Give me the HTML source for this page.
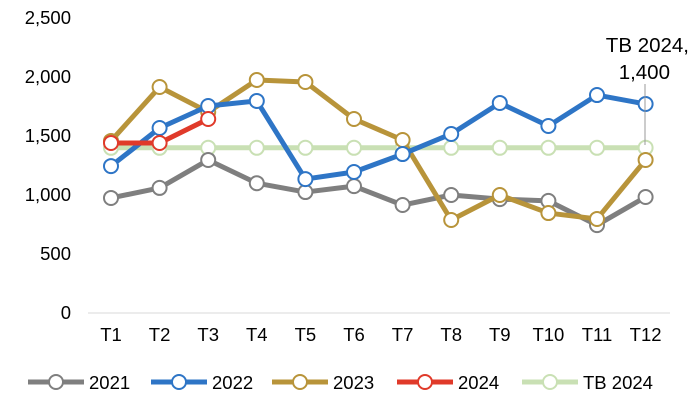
<!DOCTYPE html>
<html><head><meta charset="utf-8"><style>
body{margin:0;background:#fff;}
svg text{font-family:"Liberation Sans",Arial,sans-serif;fill:#000;}
</style></head><body>
<svg id="chart" width="690" height="401" viewBox="0 0 690 401"></svg>
<script>
const categories=["T1","T2","T3","T4","T5","T6","T7","T8","T9","T10","T11","T12"];
const yTicks=[0,500,1000,1500,2000,2500];
const s2021=[975,1060,1297,1100,1025,1075,915,1000,965,950,745,983];
const s2022=[1245,1568,1754,1797,1135,1195,1347,1517,1780,1585,1847,1771];
const s2023=[1458,1915,1703,1975,1958,1644,1466,788,1000,847,797,1297];
const s2024=[1441,1441,1644];
const sTB=[1400,1400,1400,1400,1400,1400,1400,1400,1400,1400,1400,1400];
const seriesNames=["2021","2022","2023","2024","TB 2024"];
const seriesColors=["#7f7f7f","#2e75c6","#b8943a","#e03a2a","#c9e0b4"];
const seriesData=[s2021,s2022,s2023,s2024,sTB];

const svg=document.getElementById('chart');
const NS="http://www.w3.org/2000/svg";
const x=i=>111+i*48.6;
const y=v=>313-v*(295/2500);
function el(t,a){const e=document.createElementNS(NS,t);for(const k in a)e.setAttribute(k,a[k]);svg.appendChild(e);return e;}

yTicks.forEach(t=>{
  const tx=el('text',{x:71,y:y(t)+6,'text-anchor':'end','font-size':18.5});
  tx.textContent=t.toLocaleString('en-US');
  
  
});
const axis=el('line',{x1:88,x2:670,y1:313,y2:313,stroke:'#d9d9d9','stroke-width':1});


categories.forEach((c,i)=>{
  const tx=el('text',{x:x(i),y:341,'text-anchor':'middle','font-size':18.5});
  tx.textContent=c;
  
  
});
[4,0,2,1,3].forEach(si=>{
  const d=seriesData[si],col=seriesColors[si];
  const pl=el('polyline',{points:d.map((v,i)=>x(i)+','+y(v)).join(' '),fill:'none',stroke:col,'stroke-width':5,'stroke-linejoin':'round'});
  
  
  d.forEach((v,i)=>{
    const c=el('circle',{cx:x(i),cy:y(v),r:7,fill:'#fff',stroke:col,'stroke-width':2});
    
    
  });
});
const ln=el('line',{x1:645,y1:84,x2:645,y2:145,stroke:'#999','stroke-width':1});


const a1=el('text',{x:689,y:52,'text-anchor':'end','font-size':20.5});a1.textContent='TB 2024,';


const a2=el('text',{x:670,y:79,'text-anchor':'end','font-size':20.5});a2.textContent='1,400';


const lx=[28,151,272,397,522];
seriesNames.forEach((n,i)=>{
  const l=el('line',{x1:lx[i],x2:lx[i]+56,y1:382,y2:382,stroke:seriesColors[i],'stroke-width':5});
  
  
  const c=el('circle',{cx:lx[i]+28,cy:382,r:7,fill:'#fff',stroke:seriesColors[i],'stroke-width':2});
  
  
  const t=el('text',{x:lx[i]+61,y:389,'font-size':18.5});t.textContent=n;
  
  
});
</script>
</body></html>
